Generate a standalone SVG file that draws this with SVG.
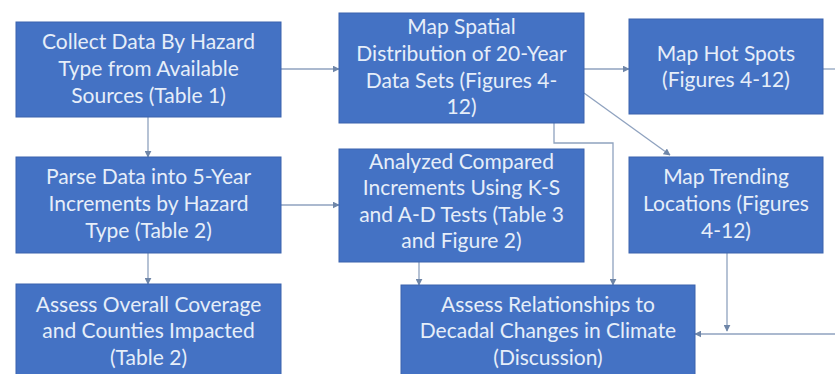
<svg xmlns="http://www.w3.org/2000/svg" width="835" height="374" viewBox="0 0 835 374">
  <defs>
    <marker id="arrow" viewBox="0 0 10 10" refX="9" refY="5" markerWidth="7" markerHeight="7" markerUnits="userSpaceOnUse" orient="auto">
      <path d="M0,0 L10,5 L0,10 z" fill="#6f86a8"/>
    </marker>
    <style>
      .box { fill: #4472c4; stroke: #3a63ad; stroke-width: 1; }
      .label { font-family: "Lato", "Liberation Sans", sans-serif; font-size: 21px; fill: #e6eef9; text-anchor: middle; }
      .link { fill: none; stroke: #8fa2bf; stroke-width: 1.3; }
    </style>
  </defs>
  <rect width="835" height="374" fill="#ffffff"/>

  <g id="connectors">
    <line class="link" x1="281" y1="69" x2="339" y2="69" marker-end="url(#arrow)"/>
    <line class="link" x1="584" y1="69" x2="629" y2="69" marker-end="url(#arrow)"/>
    <line class="link" x1="823" y1="69" x2="835" y2="69"/>
    <line class="link" x1="148" y1="117" x2="148" y2="157" marker-end="url(#arrow)"/>
    <line class="link" x1="281" y1="205" x2="339" y2="205" marker-end="url(#arrow)"/>
    <line class="link" x1="148" y1="253" x2="148" y2="284" marker-end="url(#arrow)"/>
    <line class="link" x1="584" y1="93" x2="670" y2="155" marker-end="url(#arrow)"/>
    <polyline class="link" points="554,123 554,143 613,143 613,285" marker-end="url(#arrow)"/>
    <line class="link" x1="419" y1="262" x2="419" y2="285" marker-end="url(#arrow)"/>
    <line class="link" x1="727" y1="253" x2="727" y2="331" marker-end="url(#arrow)"/>
    <line class="link" x1="835" y1="334" x2="695" y2="334" marker-end="url(#arrow)"/>
  </g>

  <g id="collect">
    <rect class="box" x="16" y="22" width="265" height="95"/>
    <text class="label" x="148.5" y="49">Collect Data By Hazard</text>
    <text class="label" x="148.5" y="76">Type from Available</text>
    <text class="label" x="148.5" y="103">Sources (Table 1)</text>
  </g>

  <g id="map-spatial">
    <rect class="box" x="339" y="13" width="245" height="110"/>
    <text class="label" x="461.5" y="34">Map Spatial</text>
    <text class="label" x="461.5" y="61">Distribution of 20-Year</text>
    <text class="label" x="461.5" y="88">Data Sets (Figures 4-</text>
    <text class="label" x="461.5" y="114">12)</text>
  </g>

  <g id="hot-spots">
    <rect class="box" x="629" y="19" width="194" height="95"/>
    <text class="label" x="726" y="61">Map Hot Spots</text>
    <text class="label" x="726" y="87">(Figures 4-12)</text>
  </g>

  <g id="parse">
    <rect class="box" x="16" y="157" width="265" height="96"/>
    <text class="label" x="148.5" y="184">Parse Data into 5-Year</text>
    <text class="label" x="148.5" y="211">Increments by Hazard</text>
    <text class="label" x="148.5" y="238">Type (Table 2)</text>
  </g>

  <g id="analyzed">
    <rect class="box" x="339" y="149" width="245" height="113"/>
    <text class="label" x="461.5" y="169">Analyzed Compared</text>
    <text class="label" x="461.5" y="195">Increments Using K-S</text>
    <text class="label" x="461.5" y="222">and A-D Tests (Table 3</text>
    <text class="label" x="461.5" y="248">and Figure 2)</text>
  </g>

  <g id="trending">
    <rect class="box" x="629" y="157" width="194" height="96"/>
    <text class="label" x="726" y="184">Map Trending</text>
    <text class="label" x="726" y="211">Locations (Figures</text>
    <text class="label" x="726" y="238">4-12)</text>
  </g>

  <g id="coverage">
    <rect class="box" x="16" y="284" width="265" height="92"/>
    <text class="label" x="148.5" y="312">Assess Overall Coverage</text>
    <text class="label" x="148.5" y="338">and Counties Impacted</text>
    <text class="label" x="148.5" y="365">(Table 2)</text>
  </g>

  <g id="relationships">
    <rect class="box" x="401" y="285" width="294" height="91"/>
    <text class="label" x="548" y="312">Assess Relationships to</text>
    <text class="label" x="548" y="338">Decadal Changes in Climate</text>
    <text class="label" x="548" y="365">(Discussion)</text>
  </g>
</svg>
